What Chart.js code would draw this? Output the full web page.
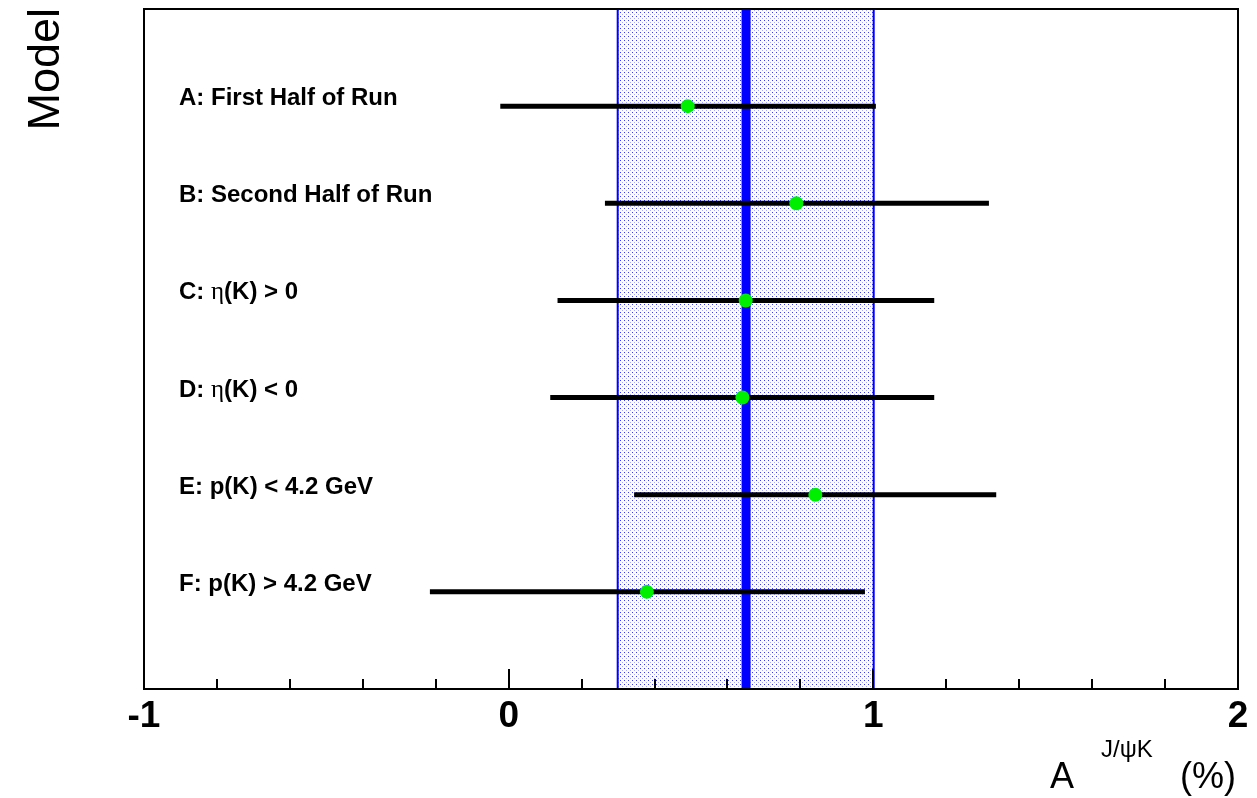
<!DOCTYPE html>
<html>
<head>
<meta charset="utf-8">
<script src="https://cdn.jsdelivr.net/npm/chart.js@4/dist/chart.umd.min.js"></script>
<style>
  html, body { margin: 0; padding: 0; background: #fff; }
  #wrap { width: 1257px; height: 798px; }
</style>
</head>
<body>
<div id="wrap"><canvas id="chart" width="1257" height="798"></canvas></div>
<script>
// measurements, one row per model (A at the top, F at the bottom)
const modelLabels = ['A: First Half of Run', 'B: Second Half of Run', 'C: \u03b7(K) > 0',
                     'D: \u03b7(K) < 0', 'E: p(K) < 4.2 GeV', 'F: p(K) > 4.2 GeV'];
const rowPos   = [6, 5, 4, 3, 2, 1];
const central  = [0.491, 0.789, 0.650, 0.641, 0.841, 0.379];
const errLow   = [-0.023, 0.264, 0.134, 0.114, 0.344, -0.216];
const errHigh  = [1.007, 1.317, 1.167, 1.167, 1.337, 0.977];

// combined result and its band
const combined = 0.651;
const bandLow  = 0.299;
const bandHigh = 1.001;

// axis
const xMin = -1, xMax = 2, yMin = 0, yMax = 7;
const majorTicks = [-1, 0, 1, 2];
const majorTickLabels = ['-1', '0', '1', '2'];
const minorStep = 0.2;

const FONT = '"Liberation Sans", Arial, Helvetica, sans-serif';
const BLUE = '#0000ff';
const GREEN = '#00ee00';

// dotted fill for the band
function makeDotPattern() {
    const c = document.createElement('canvas');
    c.width = 4; c.height = 4;
    const g = c.getContext('2d');
    g.fillStyle = '#ffffff';
    g.fillRect(0, 0, 4, 4);
    g.fillStyle = '#3a3aff';
    g.fillRect(0, 0, 1, 1);
    g.fillStyle = '#a8a8ff';
    g.fillRect(2, 2, 1, 1);
    return document.getElementById('chart').getContext('2d').createPattern(c, 'repeat');
}

const datasets = [];

// band around the combined value
datasets.push({
    data: [{x: bandLow, y: yMin}, {x: bandLow, y: yMax}, {x: bandHigh, y: yMax},
           {x: bandHigh, y: yMin}, {x: bandLow, y: yMin}],
    showLine: true,
    fill: 'shape',
    backgroundColor: makeDotPattern(),
    borderColor: BLUE,
    borderWidth: 2,
    pointRadius: 0,
    order: 10
});

// combined value
datasets.push({
    data: [{x: combined, y: yMin}, {x: combined, y: yMax}],
    showLine: true,
    borderColor: BLUE,
    borderWidth: 9,
    pointRadius: 0,
    order: 9
});

// error bars
rowPos.forEach((y, i) => {
    datasets.push({
        data: [{x: errLow[i], y: y}, {x: errHigh[i], y: y}],
        showLine: true,
        borderColor: '#000',
        borderWidth: 5,
        borderCapStyle: 'butt',
        pointRadius: 0,
        order: 5
    });
});

// central values
datasets.push({
    data: rowPos.map((y, i) => ({x: central[i], y: y})),
    showLine: false,
    pointRadius: 7,
    pointBackgroundColor: GREEN,
    pointBorderWidth: 0,
    order: 1
});

// row labels, with the greek letter in a serif face
function drawLabel(ctx, text, x, y) {
    const parts = text.split('\u03b7');
    let cx = x;
    parts.forEach((p, k) => {
        if (k > 0) {
            ctx.font = '25px "Liberation Serif", "DejaVu Serif", serif';
            ctx.fillText('\u03b7', cx, y);
            cx += ctx.measureText('\u03b7').width;
        }
        ctx.font = 'bold 24px ' + FONT;
        ctx.fillText(p, cx, y);
        cx += ctx.measureText(p).width;
    });
}

const decorations = {
    id: 'decorations',
    afterDraw(chart) {
        const ctx = chart.ctx;
        const xs = chart.scales.x, ys = chart.scales.y;
        const a = chart.chartArea;
        ctx.save();
        ctx.fillStyle = '#000';
        ctx.textBaseline = 'alphabetic';

        // model labels
        ctx.textAlign = 'left';
        rowPos.forEach((y, i) => {
            drawLabel(ctx, modelLabels[i], a.left + 35, ys.getPixelForValue(y) - 1);
        });

        // ticks pointing into the frame
        ctx.strokeStyle = '#000';
        ctx.lineWidth = 2;
        ctx.beginPath();
        const nMinor = Math.round((xMax - xMin) / minorStep);
        for (let k = 0; k <= nMinor; k++) {
            const v = xMin + k * minorStep;
            const px = Math.round(xs.getPixelForValue(v));
            const isMajor = Math.abs(v - Math.round(v)) < 1e-6;
            ctx.moveTo(px, a.bottom);
            ctx.lineTo(px, a.bottom - (isMajor ? 20 : 10));
        }
        ctx.stroke();

        // frame
        ctx.strokeRect(a.left, a.top, a.right - a.left, a.bottom - a.top);

        // tick labels
        ctx.font = 'bold 37px ' + FONT;
        ctx.textAlign = 'center';
        majorTicks.forEach((v, i) => {
            ctx.fillText(majorTickLabels[i], xs.getPixelForValue(v), a.bottom + 38);
        });

        // x title
        ctx.textAlign = 'left';
        ctx.font = '36px ' + FONT;
        ctx.fillText('A', a.right - 188, a.bottom + 99);
        ctx.font = '24px ' + FONT;
        ctx.fillText('J/\u03c8K', a.right - 137, a.bottom + 68);
        ctx.font = '36px ' + FONT;
        ctx.fillText('(%)', a.right - 58, a.bottom + 99);

        // y title
        ctx.translate(59, a.top - 1);
        ctx.rotate(-Math.PI / 2);
        ctx.textAlign = 'right';
        ctx.font = '45px ' + FONT;
        ctx.fillText('Model', 0, 0);
        ctx.restore();
    }
};

new Chart(document.getElementById('chart'), {
    type: 'scatter',
    data: { datasets: datasets },
    options: {
        responsive: false,
        animation: false,
        layout: { padding: { left: 144, top: 9, right: 19, bottom: 109 } },
        scales: {
            x: { type: 'linear', min: xMin, max: xMax, display: false },
            y: { type: 'linear', min: yMin, max: yMax, display: false }
        },
        plugins: {
            legend: { display: false },
            tooltip: { enabled: false }
        },
        elements: { line: { tension: 0 } }
    },
    plugins: [decorations]
});
</script>
</body>
</html>
